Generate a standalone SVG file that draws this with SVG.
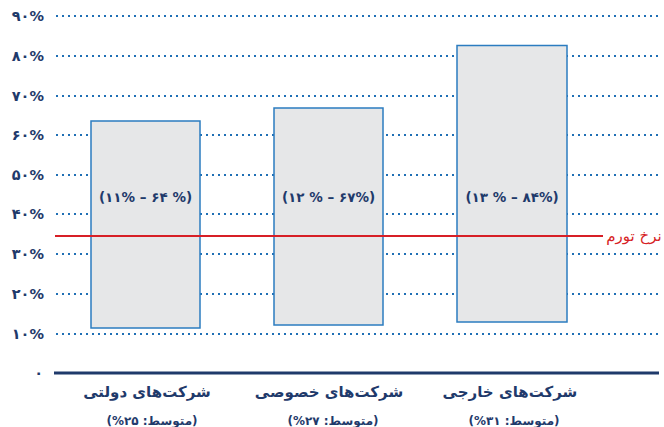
<svg xmlns="http://www.w3.org/2000/svg" width="664" height="427" viewBox="0 0 664 427">
<style>
.grid{stroke:#1f6fb5;stroke-width:2;stroke-dasharray:2 4;fill:none}
.ylab{font-family:"DejaVu Sans","Noto Sans",sans-serif;font-size:14.5px;font-weight:bold;fill:#1f3a6b;text-anchor:end;dominant-baseline:central}
.bar{fill:#e6e7e8;stroke:#2b7cc0;stroke-width:1.5}
.blab{font-family:"DejaVu Sans","Noto Sans",sans-serif;font-size:13.5px;font-weight:bold;fill:#1f3a6b;text-anchor:middle;dominant-baseline:central}
.cat{font-family:"DejaVu Sans","Noto Sans",sans-serif;font-size:15px;font-weight:bold;fill:#1f3a6b;text-anchor:middle;dominant-baseline:central;direction:rtl}
.sub{font-family:"DejaVu Sans","Noto Sans",sans-serif;font-size:12px;font-weight:bold;fill:#1f3a6b;text-anchor:middle;dominant-baseline:central;direction:rtl}
</style>
<rect width="664" height="427" fill="#ffffff"/>
<g id="grid">
<line class="grid" x1="56" y1="16" x2="662" y2="16"/>
<line class="grid" x1="56" y1="56" x2="662" y2="56"/>
<line class="grid" x1="56" y1="96" x2="662" y2="96"/>
<line class="grid" x1="56" y1="135" x2="662" y2="135"/>
<line class="grid" x1="56" y1="175" x2="662" y2="175"/>
<line class="grid" x1="56" y1="214" x2="662" y2="214"/>
<line class="grid" x1="56" y1="254" x2="662" y2="254"/>
<line class="grid" x1="56" y1="294" x2="662" y2="294"/>
<line class="grid" x1="56" y1="334" x2="662" y2="334"/>
</g>
<g id="yaxis">
<text class="ylab" x="44" y="16">۹۰%</text>
<text class="ylab" x="44" y="56">۸۰%</text>
<text class="ylab" x="44" y="96">۷۰%</text>
<text class="ylab" x="44" y="135">۶۰%</text>
<text class="ylab" x="44" y="175">۵۰%</text>
<text class="ylab" x="44" y="214">۴۰%</text>
<text class="ylab" x="44" y="254">۳۰%</text>
<text class="ylab" x="44" y="294">۲۰%</text>
<text class="ylab" x="44" y="334">۱۰%</text>
<text class="ylab" x="43" y="373">۰</text>
<line x1="54" y1="373" x2="659" y2="373" stroke="#1f3a6b" stroke-width="3"/>
</g>
<g id="bar-state">
<rect class="bar" x="91" y="121" width="109" height="207"/>
<text class="blab" x="145.5" y="197">(۱۱% – ۶۴ %)</text>
<text class="cat" x="147" y="392">شرکت‌های دولتی</text>
<text class="sub" x="152" y="421">(متوسط: ۲۵%)</text>
</g>
<g id="bar-private">
<rect class="bar" x="274" y="108" width="109" height="217"/>
<text class="blab" x="328.5" y="197">(۱۲ % – ۶۷%)</text>
<text class="cat" x="329" y="392">شرکت‌های خصوصی</text>
<text class="sub" x="333" y="421">(متوسط: ۲۷%)</text>
</g>
<g id="bar-foreign">
<rect class="bar" x="457" y="45.5" width="110" height="276.5"/>
<text class="blab" x="512" y="197">(۱۳ % – ۸۴%)</text>
<text class="cat" x="510" y="392">شرکت‌های خارجی</text>
<text class="sub" x="514" y="421">(متوسط: ۳۱%)</text>
</g>
<g id="connectors">
<line id="inflation" x1="55" y1="236" x2="603" y2="236" stroke="#d71f26" stroke-width="2"/>
</g>
<g id="inflation-label">
<text x="634" y="236" font-family="DejaVu Sans, Noto Sans, sans-serif" font-size="15" fill="#d71f26" text-anchor="middle" dominant-baseline="central" direction="rtl">نرخ تورم</text>
</g>
</svg>
